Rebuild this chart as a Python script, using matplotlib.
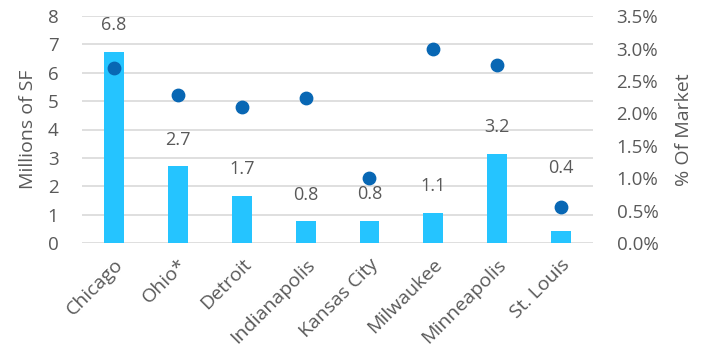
import numpy as np
import matplotlib.pyplot as plt
from matplotlib.ticker import FuncFormatter

markets = ["Chicago", "Ohio*", "Detroit", "Indianapolis", "Kansas City",
           "Milwaukee", "Minneapolis", "St. Louis"]
msf = [6.75, 2.71, 1.67, 0.76, 0.78, 1.07, 3.15, 0.42]
msf_labels = ["6.8", "2.7", "1.7", "0.8", "0.8", "1.1", "3.2", "0.4"]
pct_market = [2.70, 2.29, 2.09, 2.24, 1.00, 2.99, 2.74, 0.56]

plt.rcParams["font.family"] = ["Open Sans", "DejaVu Sans"]
grey = "#595959"

fig, ax = plt.subplots(figsize=(7.14, 3.5), dpi=100)
fig.subplots_adjust(left=0.115, right=0.8305, top=0.954, bottom=0.306)

x = np.arange(len(markets))
ax.bar(x, msf, width=0.31, color="#25C4FF", zorder=2)
for i, (xi, v, lab) in enumerate(zip(x, msf, msf_labels)):
    # St. Louis label was moved above its dot in the original
    off = 39 if i == len(markets) - 1 else 12.5
    ax.annotate(lab, (xi, v), xytext=(0, off), textcoords="offset points",
                ha="center", va="bottom", fontsize=13, color=grey)

ax.set_ylim(0, 8)
ax.set_xlim(-0.5, len(markets) - 0.5)
ax.set_yticks(range(0, 9))
ax.grid(axis="y", color="#D9D9D9", linewidth=1.2, zorder=0)
ax.set_axisbelow(True)
for s in ax.spines.values():
    s.set_visible(False)
ax.tick_params(axis="y", length=0, labelsize=13.5, colors=grey, pad=17)
ax.tick_params(axis="x", length=0, labelsize=14, colors=grey, pad=9)
ax.set_xticks(x)
ax.set_xticklabels(markets, rotation=45, ha="right", rotation_mode="anchor")
ax.set_ylabel("Millions of SF", fontsize=14, color=grey, labelpad=8)

ax2 = ax.twinx()
ax2.scatter(x, pct_market, s=80, color="#0867B4", zorder=3)
ax2.set_ylim(0, 3.5)
ax2.set_yticks(np.arange(0, 3.51, 0.5))
ax2.yaxis.set_major_formatter(FuncFormatter(lambda v, p: f"{v:.1f}%"))
for s in ax2.spines.values():
    s.set_visible(False)
ax2.tick_params(length=0, labelsize=13.5, colors=grey, pad=17)
ax2.set_ylabel("% Of Market", fontsize=14, color=grey, labelpad=12)

fig.savefig("out.png", dpi=100)
